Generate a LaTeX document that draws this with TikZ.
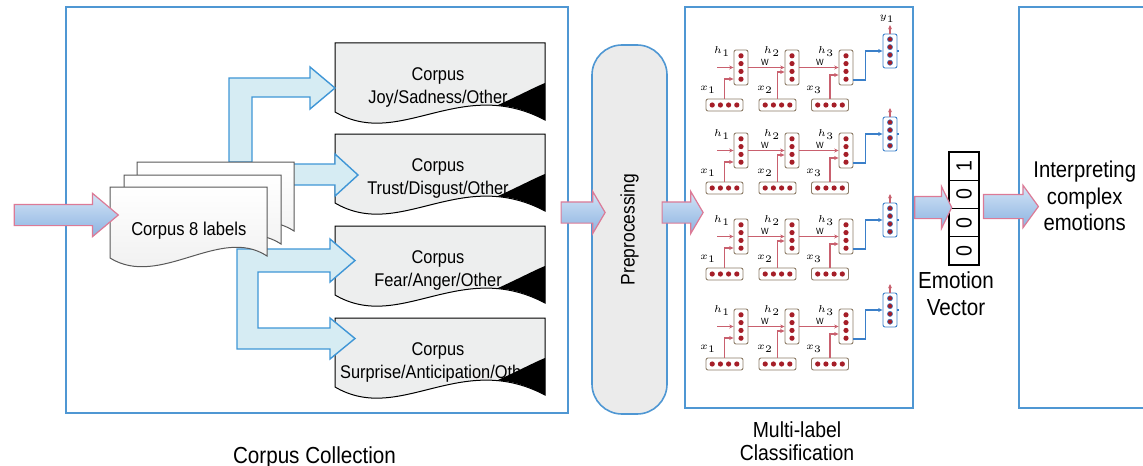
\documentclass[tikz,border=0pt]{standalone}
\usepackage{fontspec}
\setmainfont{Liberation Sans}[FakeStretch=0.89]
\usepackage{graphicx}
\usetikzlibrary{shapes.arrows,arrows.meta}

\definecolor{frameblue}{HTML}{4F97D3}
\definecolor{arrowpink}{HTML}{DC7A96}
\definecolor{arrowtop}{HTML}{D3E4F6}
\definecolor{arrowbot}{HTML}{8CB3E1}
\definecolor{branchfill}{HTML}{D6ECF3}
\definecolor{branchblue}{HTML}{3F96D6}
\definecolor{docgray}{HTML}{EDEEEE}
\definecolor{prepgray}{HTML}{EBEBEB}
\definecolor{rnnred}{HTML}{C9606E}
\definecolor{dotred}{HTML}{A51E28}
\definecolor{boxbrown}{HTML}{8C7B66}
\definecolor{rnnblue}{HTML}{3A7FC9}

\tikzset{
  panel/.style={draw=frameblue, line width=0.8pt, inner sep=0pt, anchor=north west},
  bigarrow/.style={single arrow, draw=arrowpink, line width=0.6pt, top color=arrowtop,
    bottom color=arrowbot, inner xsep=0pt, inner ysep=5pt, minimum width=0pt},
  branch/.style={draw=branchblue, line width=0.7pt, fill=branchfill},
  srcdoc/.style={draw=gray!70!black, line width=0.5pt, top color=white, bottom color=gray!14},
  outdoc/.style={draw=black, line width=0.5pt, fill=docgray},
  doctext/.style={anchor=north, inner sep=0pt, align=center, font=\fontsize{9.2}{11.5}\selectfont},
  lbl/.style={inner sep=0pt, font=\fontsize{4.5}{5}\selectfont},
  hbox/.style={draw=boxbrown, line width=0.45pt, rounded corners=1pt, fill=white,
    minimum width=7pt, minimum height=17.5pt, inner sep=0pt},
  xbox/.style={hbox, minimum width=18.5pt, minimum height=6pt},
  obox/.style={hbox, draw=rnnblue, minimum height=17pt},
  redlink/.style={draw=rnnred, line width=0.55pt, -{Stealth[length=2.2pt,width=2pt]}},
  bluelink/.style={draw=rnnblue, line width=0.6pt, -{Stealth[length=2.2pt,width=2pt]}},
  vcell/.style={draw, line width=0.7pt, fill=white, minimum width=15pt, minimum height=14.125pt,
    inner sep=0pt, font=\fontsize{11}{12}\selectfont}
}

\begin{document}
\begin{tikzpicture}[x=0.5pt,y=-0.5pt] % unité = un pixel de l'image
\useasboundingbox (0,0) rectangle (1143,465);

% cadres
\node[panel, minimum width=251pt, minimum height=203pt] (collect) at (65,6) {};
\node[panel, minimum width=114pt, minimum height=200.5pt] (mlc) at (684,6) {};
\node[panel, minimum width=80pt, minimum height=200.5pt] (interp) at (1018,6) {};

% corpus de sortie
\foreach \ytop in {43,134,226,318} {
  \begin{scope}[shift={(335,\ytop)}]
    \draw[outdoc] (0,0) -- (210,0) -- (210,77) .. controls (125,32) and (65,107) .. (0,69) -- cycle;
    \fill (162,62.5) .. controls (185,52) and (200,44) .. (210,40) -- (210,77)
      .. controls (193,68) and (178,63) .. (162,62.5) -- cycle;
  \end{scope}
}
\node[doctext] (doc1) at (438,66.8) {Corpus\\Joy/Sadness/Other};
\node[doctext] (doc2) at (438,157.8) {Corpus\\Trust/Disgust/Other};
\node[doctext] (doc3) at (438,249.8) {Corpus\\Fear/Anger/Other};
\node[doctext] (doc4) at (438,341.8) {Corpus\\Surprise/Anticipation/Other};

% flèches de répartition
\draw[branch] (229,162) -- (229,78) -- (310,78) -- (310,67) -- (335,88) -- (310,109)
  -- (310,97) -- (252,97) -- (252,162) -- cycle;
\draw[branch] (291,164) -- (335,164) -- (335,154) -- (358,175) -- (335,196) -- (335,185)
  -- (291,185) -- cycle;
\draw[branch] (237,249) -- (237,349) -- (330,349) -- (330,359) -- (355,338.5) -- (330,318)
  -- (330,328) -- (258,328) -- (258,272) -- (330,272) -- (330,282) -- (355,260.5)
  -- (330,239) -- (330,249) -- cycle;

% corpus 8 labels
\foreach \dx/\dy in {137/162,124/175,110/187}
  \draw[srcdoc, shift={(\dx,\dy)}] (0,0) -- (157,0) -- (157,69)
    .. controls (110,38) and (50,102) .. (0,71) -- cycle;
\node[anchor=base, inner sep=0pt, font=\fontsize{9.3}{11}\selectfont] (corpus) at (188.8,235) {Corpus 8 labels};

\node[draw=frameblue, line width=0.8pt, fill=prepgray, rounded corners=15pt, rotate=90,
  minimum width=184.5pt, minimum height=37.5pt, font=\fontsize{9.8}{11}\selectfont]
  (prep) at (629.5,229.5) {Preprocessing};

% réseaux récurrents
\foreach \dy [count=\r] in {0,83,169,259} {
  \begin{scope}[shift={(0,\dy)}]
    \foreach \k/\hx/\ix/\drop in {1/741/724.5/-5.75pt,2/792/777.5/-2.25pt,3/846/830/-3.75pt} {
      \node[hbox] (hid-\r-\k) at (\hx,67.5) {};
      \node[xbox] (inp-\r-\k) at (\ix,105) {};
      \foreach \j in {-1.5,-0.5,0.5,1.5} {
        \fill[dotred] (hid-\r-\k.center) ++(0,\j*7.8) circle[radius=1.3pt];
        \fill[dotred] (inp-\r-\k.center) ++(\j*8.2,0) circle[radius=1.3pt];
      }
      \draw[redlink] (inp-\r-\k.north) |- ([yshift=\drop]hid-\r-\k.west);
    }
    \foreach \k/\lx in {1/722,2/772,3/826}
      \node[lbl] (hl-\r-\k) at (\lx,52) {$h_\k$};
    \foreach \k/\lx in {1/708,2/765,3/814}
      \node[lbl] (xl-\r-\k) at (\lx,89.5) {$x_\k$};
    \node[lbl] (w-\r-1) at (765,62) {W};
    \node[lbl] (w-\r-2) at (820,62.5) {W};
    \coordinate (start-\r) at (717,67.5);
    \draw[redlink] (start-\r) -- (hid-\r-1.west);
    \draw[redlink] (hid-\r-1) -- (hid-\r-2);
    \draw[redlink] (hid-\r-2) -- (hid-\r-3);
    \node[obox] (out-\r) at (890,51) {};
    \foreach \j in {-1.5,-0.5,0.5,1.5}
      \filldraw[fill=dotred, draw=rnnblue, line width=0.25pt] (out-\r.center) ++(0,\j*7.8) circle[radius=1.3pt];
    \draw[bluelink] ([yshift=-6.25pt]hid-\r-3.east) -- ++(6pt,0) |- (out-\r.west);
    \coordinate (stub-\r) at (899,51);
    \draw[draw=rnnblue, line width=0.6pt] (out-\r.east) -- (stub-\r);
    \coordinate (yend-\r) at (890,25);
    \draw[redlink] (out-\r.north) -- (yend-\r);
  \end{scope}
}
\node[lbl] (ylab) at (887,19) {$y_1$};

% vecteur d'émotions
\foreach \d [count=\i] in {1,0,0,0}
  \node[vcell] (v\i) at (964,{137.875+28.25*\i}) {\rotatebox{90}{\d}};

% légendes
\node[anchor=base, inner sep=0pt, font=\fontsize{11.6}{13}\selectfont] (collectlbl) at (314.5,463) {Corpus Collection};
\node[anchor=north, inner sep=0pt, align=center, font=\fontsize{10.9}{11.5}\selectfont] (mlclbl) at (797,421.4) {Multi-label\\Classification};
\node[anchor=north, inner sep=0pt, align=center, font=\fontsize{11.6}{13.5}\selectfont] (veclbl) at (956,271.4) {Emotion\\Vector};
\node[anchor=north, inner sep=0pt, align=center, font=\fontsize{11.4}{13.3}\selectfont] (interplbl) at (1084.7,160.7) {Interpreting\\complex\\emotions};

% flèches roses
\node[bigarrow, minimum height=52pt, single arrow head extend=5.5pt, single arrow tip angle=80] (in) at (60,215) {};
\node[bigarrow, minimum height=22pt, single arrow head extend=5.25pt, single arrow tip angle=119] (toprep) at (580,212.5) {};
\node[bigarrow, minimum height=20.5pt, single arrow head extend=5.25pt, single arrow tip angle=119] (fromprep) at (679.5,212.5) {};
\node[bigarrow, minimum height=18.5pt, inner ysep=5.25pt, single arrow head extend=5pt, single arrow tip angle=128] (tovec) at (930.5,207.5) {};
\node[bigarrow, minimum height=27.5pt, inner ysep=5.75pt, single arrow head extend=4.5pt, single arrow tip angle=108] (fromvec) at (1006.5,206.5) {};
\end{tikzpicture}
\end{document}
